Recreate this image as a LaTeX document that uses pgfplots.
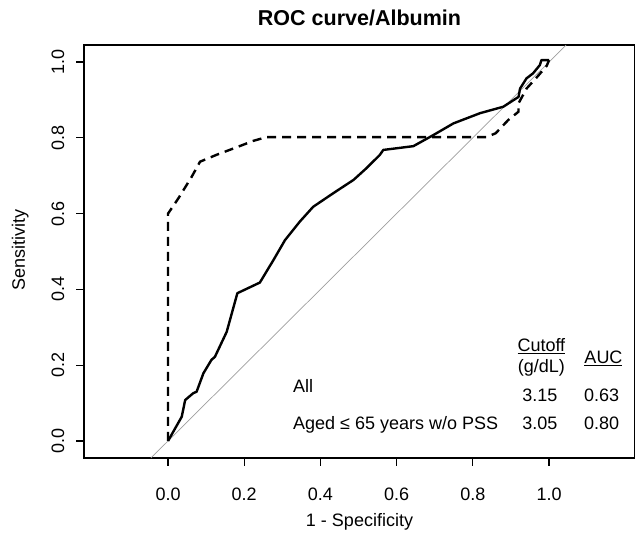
\documentclass[border=0pt]{standalone}
\usepackage{fontspec}
\setmainfont{Liberation Sans}
\usepackage{pgfplots}
\pgfplotsset{compat=1.18}

% ROC curve, all patients
\pgfplotstableread{
x y
0.000 0.000
0.036 0.064
0.045 0.108
0.066 0.126
0.075 0.130
0.093 0.179
0.114 0.214
0.123 0.222
0.154 0.288
0.182 0.390
0.241 0.418
0.277 0.478
0.307 0.530
0.346 0.579
0.381 0.618
0.434 0.654
0.487 0.689
0.521 0.720
0.556 0.755
0.565 0.768
0.644 0.778
0.696 0.807
0.749 0.838
0.819 0.865
0.880 0.882
0.920 0.908
0.924 0.930
0.941 0.957
0.958 0.970
0.976 0.992
0.980 1.005
1.000 1.005
}\allpts
% ROC curve, aged <= 65 years w/o PSS
\pgfplotstableread{
x y
0.000 0.000
0.000 0.600
0.027 0.640
0.062 0.697
0.084 0.737
0.127 0.755
0.180 0.775
0.224 0.792
0.259 0.802
0.836 0.802
0.860 0.812
0.893 0.847
0.920 0.869
0.920 0.891
0.941 0.930
0.970 0.962
0.994 0.990
1.000 1.005
}\youngpts

\begin{document}
\fontsize{18}{21}\selectfont
\begin{tikzpicture}
\begin{axis}[
    scale only axis,
    width=551pt, height=413pt,
    xmin=-0.2205, xmax=1.2257,
    ymin=-0.0449, ymax=1.0449,
    xtick={0,0.2,0.4,0.6,0.8,1},
    ytick={0,0.2,0.4,0.6,0.8,1},
    /pgf/number format/.cd, fixed, fixed zerofill, precision=1, assume math mode=true,
    /pgfplots/.cd,
    xtick pos=left, ytick pos=left,
    tick align=outside,
    major tick length=8pt,
    tick style={black, line width=1.1pt},
    axis line style={line width=1.1pt},
    ticklabel style={font=\fontsize{18}{21}\selectfont, inner sep=0pt},
    xticklabel style={anchor=center},
    yticklabel style={rotate=90, anchor=center},
    xticklabel shift=28pt,
    yticklabel shift=18pt,
    title={ROC curve/Albumin},
    title style={font=\fontsize{21.5}{26}\selectfont\bfseries, at={(axis description cs:0.5,1.0327)}, anchor=base},
    xlabel={1 - Specificity},
    xlabel style={at={(axis description cs:0.5,-0.155)}, anchor=center},
    ylabel={Sensitivity},
    ylabel style={at={(axis description cs:-0.116,0.504)}, anchor=center, rotate=0},
    clip=false,
]
\coordinate (imgbl) at (axis description cs:-0.1525,-0.1816);
\coordinate (imgtr) at (axis description cs:1,1.109);

\addplot[color=black!38, line width=0.7pt] coordinates {(-0.0449,-0.0449) (1.0449,1.0449)};
\addplot[black, line width=2.4pt, line join=round] table[x=x, y=y] {\allpts};
\addplot[black, line width=2.4pt, dash pattern=on 9pt off 6pt] table[x=x, y=y] {\youngpts};

\begin{scope}[every node/.style={inner sep=0pt}]
\node[anchor=base west] at (axis cs:0.328,0.127) {All};
\node[anchor=base west] at (axis cs:0.328,0.029) {Aged ≤ 65 years w/o PSS};
\node[anchor=base] at (axis cs:0.980,0.236) {\underline{Cutoff}};
\node[anchor=base] at (axis cs:0.980,0.180) {(g/dL)};
\node[anchor=base] at (axis cs:1.143,0.205) {\underline{AUC}};
\node[anchor=base] at (axis cs:0.976,0.104) {3.15};
\node[anchor=base] at (axis cs:1.138,0.104) {0.63};
\node[anchor=base] at (axis cs:0.976,0.029) {3.05};
\node[anchor=base] at (axis cs:1.138,0.029) {0.80};
\end{scope}
\end{axis}
\pgfresetboundingbox
\path[use as bounding box] (imgbl) rectangle (imgtr);
\end{tikzpicture}
\end{document}
